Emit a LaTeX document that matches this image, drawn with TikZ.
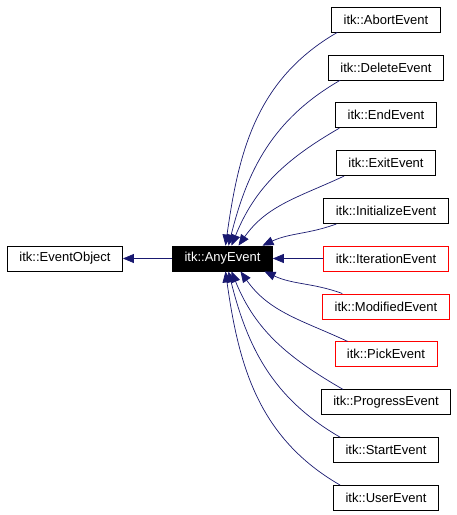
\documentclass[tikz,border=0pt]{standalone}
\usepackage{fontspec}
\setmainfont{Liberation Sans}
\usetikzlibrary{arrows.meta}
\definecolor{edgeblue}{RGB}{25,25,112}

\begin{document}
\begin{tikzpicture}[x=1pt, y=1pt,
    cls/.style={draw, rectangle, minimum height=25pt, inner xsep=12pt, inner ysep=0pt,
      line width=0.8pt, font=\fontsize{13}{15}\selectfont},
    edge/.style={draw=edgeblue, line width=0.7pt,
      -{Triangle[length=11pt, width=9pt, fill=edgeblue]}}]
  \useasboundingbox (0,0) rectangle (456,-515);

  \node[cls] (obj) at (65,-258.5) {itk::EventObject};
  \node[cls, fill=black, text=white] (any) at (222.5,-258.5) {itk::AnyEvent};

  \node[cls] (abort) at (386,-19.5) {itk::AbortEvent};
  \node[cls] (delete) at (386,-67.4) {itk::DeleteEvent};
  \node[cls] (end) at (386,-115.3) {itk::EndEvent};
  \node[cls] (exit) at (386,-163.2) {itk::ExitEvent};
  \node[cls] (init) at (386,-211.1) {itk::InitializeEvent};
  \node[cls, draw=red] (iter) at (386,-258.5) {itk::IterationEvent};
  \node[cls, draw=red] (modified) at (386,-306.4) {itk::ModifiedEvent};
  \node[cls, draw=red] (pick) at (386,-354.3) {itk::PickEvent};
  \node[cls] (progress) at (386,-402.2) {itk::ProgressEvent};
  \node[cls] (start) at (386,-450.1) {itk::StartEvent};
  \node[cls] (user) at (386,-498) {itk::UserEvent};

  \draw[edge] (any) -- (obj);

  % children above
  \draw[edge] ([xshift=6pt]abort.south west) to[out=210, in=82] ([xshift=3pt]any.north);
  \draw[edge] ([xshift=12pt]delete.south west) to[out=210, in=76] ([xshift=6pt]any.north);
  \draw[edge] ([xshift=4pt]end.south west) to[out=210, in=68] ([xshift=9pt]any.north);
  \draw[edge] ([xshift=8pt]exit.south west) to[out=205, in=55] ([xshift=16pt]any.north);
  \draw[edge] ([xshift=13pt]init.south west) to[out=200, in=25] ([xshift=40pt]any.north);
  \draw[edge] (iter) -- (any);
  % children below
  \draw[edge] ([xshift=20pt]modified.north west) to[out=160, in=-25] ([xshift=42pt]any.south);
  \draw[edge] ([xshift=13pt]pick.north west) to[out=155, in=-55] ([xshift=18pt]any.south);
  \draw[edge] ([xshift=22pt]progress.north west) to[out=150, in=-68] ([xshift=9pt]any.south);
  \draw[edge] ([xshift=7pt]start.north west) to[out=150, in=-76] ([xshift=6pt]any.south);
  \draw[edge] ([xshift=7pt]user.north west) to[out=150, in=-82] ([xshift=3pt]any.south);
\end{tikzpicture}
\end{document}
